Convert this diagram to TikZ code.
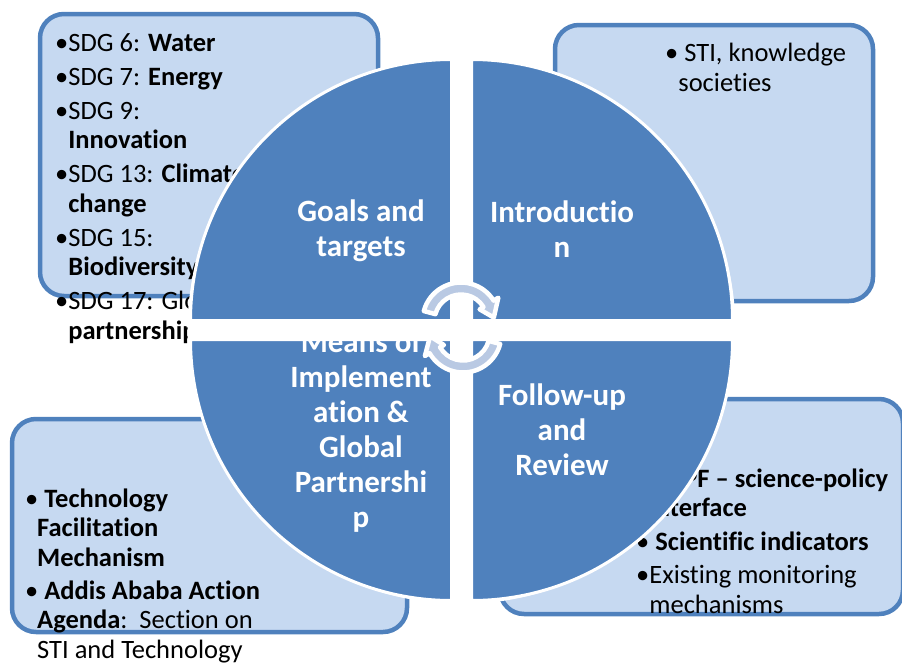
\documentclass[tikz,border=0pt]{standalone}
\usepackage{fontspec}
\setmainfont{Carlito}[Ligatures=NoCommon]
\definecolor{quadblue}{RGB}{79,129,189}
\definecolor{boxfill}{RGB}{198,217,241}
\definecolor{loopfill}{RGB}{185,201,227}

\begin{document}
\begin{tikzpicture}[x=1pt,y=-1pt]
	\tikzset{panel/.style={draw=quadblue,fill=boxfill,line width=4.5pt,rounded corners=24pt},
		quad/.style={draw=white,fill=quadblue,line width=3pt},
		txt/.style={anchor=base west,inner sep=0pt,align=left,font=\fontsize{26.5}{29.5}\selectfont},
		qtxt/.style={anchor=base,inner sep=0pt,align=center,text=white,font=\fontsize{31}{35}\selectfont\bfseries},
		loopband/.style={draw=white,fill=loopfill,line width=4.5pt,line join=round}}
	\useasboundingbox (0,0) rectangle (902,662);
	% boxes round the circle (text nodes sit on their last line)
	\draw[panel] (40,14) rectangle (378,296);
	\draw[panel] (555,25) rectangle (873,301);
	\draw[panel] (12,419) rectangle (407,632);
	\draw[panel] (500,399) rectangle (903,614);
	\node[txt] (sdgs) at (55,339) {•SDG 6: \textbf{Water}\\[4.5pt]
		•SDG 7: \textbf{Energy}\\[4.5pt]
		•SDG 9:\\ \phantom{•}\textbf{Innovation}\\[4.5pt]
		•SDG 13: \textbf{Climate}\\ \phantom{•}\textbf{change}\\[4.5pt]
		•SDG 15:\\ \phantom{•}\textbf{Biodiversity}\\[4.5pt]
		•SDG 17: Global\\ \phantom{•}\textbf{partnership}};
	\node[txt] (sti) at (665,91) {• STI, knowledge\\ \phantom{•}societies};
	\node[txt] (tfm) at (25,658) {• \textbf{Technology}\\ \hspace*{12pt}\textbf{Facilitation}\\ \hspace*{12pt}\textbf{Mechanism}\\[3.5pt]
		• \textbf{Addis Ababa Action}\\ \hspace*{12pt}\textbf{Agenda}:\ \ Section on\\ \hspace*{12pt}STI and Technology};
	\node[txt] (hlpf) at (636,613) {• \textbf{HLPF – science-policy}\\ \phantom{•}\textbf{interface}\\[4pt]
		• \textbf{Scientific indicators}\\[4pt]
		•Existing monitoring\\ \phantom{•}mechanisms};
	% circle in four parts
	\fill[white] (461.5,330) circle[radius=274];
	\draw[quad] (451.5,320.5) -- ++(-261,0) arc[start angle=180,end angle=270,radius=261] -- cycle;
	\draw[quad] (471.5,320.5) -- ++(0,-261) arc[start angle=270,end angle=360,radius=261] -- cycle;
	\draw[quad] (471.5,339.5) -- ++(261,0) arc[start angle=0,end angle=90,radius=261] -- cycle;
	\draw[quad] (451.5,339.5) -- ++(0,261) arc[start angle=90,end angle=180,radius=261] -- cycle;
	\node[qtxt] (goals) at (361,256) {Goals and\\targets};
	\node[qtxt] (intro) at (562,257) {Introductio\\n};
	\node[qtxt] (means) at (361,527) {Means of\\Implement\\ation \&\\Global\\Partnershi\\p};
	\node[qtxt] (review) at (562,475) {Follow-up\\and\\Review};
	% the two turning arrows
	\coordinate (topc) at (461,321);
	\coordinate (botc) at (463,334);
	\draw[loopband] ([shift={(195:38.5)}]topc) arc[start angle=195,end angle=328,radius=38.5]
		-- ([shift={(328:44)}]topc) -- ([shift={(354:33)}]topc) -- ([shift={(328:22)}]topc)
		-- ([shift={(328:26.5)}]topc) arc[start angle=328,end angle=195,radius=26.5] -- cycle;
	\draw[loopband] ([shift={(15:38.5)}]botc) arc[start angle=15,end angle=150,radius=38.5]
		-- ([shift={(150:44)}]botc) -- ([shift={(176:33)}]botc) -- ([shift={(150:22)}]botc)
		-- ([shift={(150:26.5)}]botc) arc[start angle=150,end angle=15,radius=26.5] -- cycle;
\end{tikzpicture}
\end{document}
